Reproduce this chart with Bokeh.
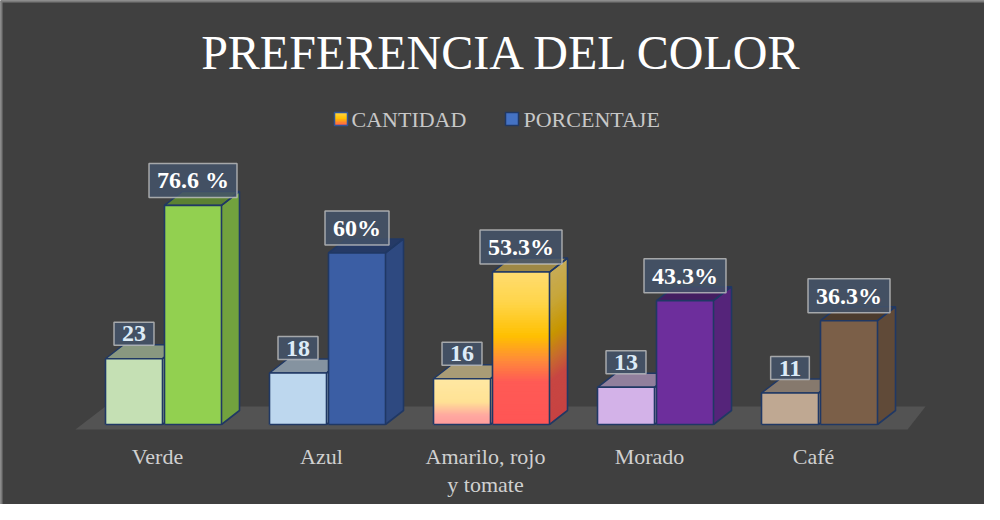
from bokeh.plotting import figure
from bokeh.models import Range1d, Label, Span
from bokeh.core.properties import value
from bokeh.embed import file_html
from bokeh.resources import INLINE

# ---------------- data ----------------
categories = ["Verde", "Azul", "Amarilo, rojo\ny tomate", "Morado", "Café"]
cantidad = [23, 18, 16, 13, 11]
porcentaje = [76.6, 60, 53.3, 43.3, 36.3]
cantidad_labels = ["23", "18", "16", "13", "11"]
porcentaje_labels = ["76.6 %", "60%", "53.3%", "43.3%", "36.3%"]
series_names = ["CANTIDAD", "PORCENTAJE"]
title_text = "PREFERENCIA DEL COLOR"

# ---------------- styles ----------------
BG = "#404040"
FLOOR = "#535353"
EDGE = "#203864"
FONT = value("Liberation Serif")

# colour stops (t=0 top, t=1 bottom) per category
cant_colors = [
    [(0, "#c5e0b4"), (1, "#c5e0b4")],
    [(0, "#bdd7ee"), (1, "#bdd7ee")],
    [(0, "#ffe8a3"), (0.5, "#ffe295"), (0.8, "#ffa8a0"), (1, "#ff9c9c")],
    [(0, "#d3b2e8"), (1, "#d3b2e8")],
    [(0, "#bfa892"), (1, "#bfa892")],
]
porc_colors = [
    [(0, "#92d050"), (1, "#92d050")],
    [(0, "#3b5ea4"), (1, "#3b5ea4")],
    [(0, "#ffdc70"), (0.2, "#ffd54a"), (0.42, "#ffc000"), (0.58, "#ff8a3a"),
     (0.72, "#ff5a55"), (1, "#ff5555")],
    [(0, "#6d2e9c"), (1, "#6d2e9c")],
    [(0, "#7b5f48"), (1, "#7b5f48")],
]

# ---------------- geometry (pixels of the layout) ----------------
W, H = 984, 504
PX_CAT = 164.0      # pixels per category
PX_UNIT = 2.86      # pixels per value unit
X0_REF = 171.0      # centre of first group in page px
ZERO_REF = 432.0    # baseline in page px
BAR_PX = 57.0
GAP_PX = 1.0
DEPTH_X_PX, DEPTH_Y_PX = 18.0, 14.0


def xd(px):
    return (px - X0_REF) / PX_CAT


def yd(py):
    return (ZERO_REF - py) / PX_UNIT


BW = BAR_PX / PX_CAT
G = GAP_PX / PX_CAT
DX = DEPTH_X_PX / PX_CAT
DY = DEPTH_Y_PX / PX_UNIT


def hex2rgb(h):
    h = h.lstrip("#")
    return tuple(int(h[i:i + 2], 16) for i in (0, 2, 4))


def rgb2hex(c):
    return "#%02x%02x%02x" % tuple(max(0, min(255, int(round(v)))) for v in c)


def stop_color(stops, t):
    for (t0, c0), (t1, c1) in zip(stops[:-1], stops[1:]):
        if t0 <= t <= t1:
            f = 0 if t1 == t0 else (t - t0) / (t1 - t0)
            a, b = hex2rgb(c0), hex2rgb(c1)
            return rgb2hex([a[k] + (b[k] - a[k]) * f for k in range(3)])
    return stops[-1][1]


def shade(hexc, f):
    return rgb2hex([v * f for v in hex2rgb(hexc)])


def mix(hexc, other, f):
    a, b = hex2rgb(hexc), hex2rgb(other)
    return rgb2hex([a[k] * (1 - f) + b[k] * f for k in range(3)])


def is_flat(stops):
    return all(c == stops[0][1] for _, c in stops)


p = figure(width=W, height=H, output_backend="svg", toolbar_location=None,
           x_range=Range1d(xd(8), xd(8 + W)), y_range=Range1d(yd(8 + H), yd(8)),
           min_border=0, min_border_left=0, min_border_right=0,
           min_border_top=0, min_border_bottom=0)
p.background_fill_color = BG
p.border_fill_color = BG
p.outline_line_color = None
p.xaxis.visible = False
p.yaxis.visible = False
p.xgrid.visible = False
p.ygrid.visible = False

# chart border (top and left)
p.add_layout(Span(location=yd(8), dimension="width", line_color="#7a7a7a", line_width=4))
p.add_layout(Span(location=xd(8), dimension="height", line_color="#7a7a7a", line_width=4))

# ---------------- floor ----------------
n = len(categories)
fl = -0.5 - 0.037
fr = n - 0.5 + 0.037
fb = yd(437)
ft = yd(414)
p.patch([fl, fr, fr + 18 / PX_CAT, fl + 30 / PX_CAT], [fb, fb, ft, ft],
        fill_color=FLOOR, line_color=None)

NSTRIP = 60


def grad_front(x0, x1, v, stops):
    if is_flat(stops):
        p.quad(left=x0, right=x1, bottom=0, top=v,
               fill_color=stops[0][1], line_color=None)
        return
    L, R, B, T, C = [], [], [], [], []
    for k in range(NSTRIP):
        t = (k + 0.5) / NSTRIP
        L.append(x0); R.append(x1)
        T.append(v * (1 - k / NSTRIP))
        B.append(max(0.0, v * (1 - (k + 2) / NSTRIP)))   # overlap next strip
        C.append(stop_color(stops, t))
    p.quad(left=L, right=R, bottom=B, top=T, fill_color=C, line_color=None)


def grad_side(x1, v, stops, factor):
    if is_flat(stops):
        p.patch([x1, x1 + DX, x1 + DX, x1], [0, DY, v + DY, v],
                fill_color=shade(stops[0][1], factor), line_color=None)
        return
    xs, ys, C = [], [], []
    for k in range(NSTRIP):
        t = (k + 0.5) / NSTRIP
        ya = max(0.0, v * (1 - (k + 2) / NSTRIP))
        yb = v * (1 - k / NSTRIP)
        xs.append([x1, x1 + DX, x1 + DX, x1])
        ys.append([ya, ya + DY, yb + DY, yb])
        C.append(shade(stop_color(stops, t), factor))
    p.patches(xs, ys, fill_color=C, line_color=None)


def bar3d(x0, x1, v, stops, top_color):
    grad_side(x1, v, stops, 0.78)
    p.patch([x0, x1, x1 + DX, x0 + DX], [v, v, v + DY, v + DY],
            fill_color=top_color, line_color=EDGE, line_width=1.5)
    grad_front(x0, x1, v, stops)
    p.multi_line([[x0, x1, x1, x0, x0], [x1, x1 + DX, x1 + DX, x1]],
                 [[0, 0, v, v, 0], [0, DY, v + DY, v]],
                 line_color=EDGE, line_width=1.6)


for i in range(n):
    c0, c1 = i - G - BW, i - G
    bar3d(c0, c1, cantidad[i], cant_colors[i], mix(cant_colors[i][0][1], BG, 0.45))
    q0, q1 = i + G, i + G + BW
    bar3d(q0, q1, porcentaje[i], porc_colors[i], shade(porc_colors[i][0][1], 0.62))

# ---------------- data labels ----------------
lab_common = dict(text_font=FONT, text_font_style="bold", text_font_size="24px",
                  text_align="center", text_baseline="middle", y_offset=-25,
                  background_fill_color="#44546a", background_fill_alpha=0.85,
                  border_line_color="#c8c8c8", border_line_alpha=0.75, border_line_width=1.5,
                  padding=dict(left=8, right=8, top=4, bottom=4))
p.text(x=[i - G - BW / 2 for i in range(n)], y=cantidad, text=cantidad_labels,
       text_color="#ddebf7", **lab_common)
p.text(x=[i + G + BW / 2 for i in range(n)], y=porcentaje, text=porcentaje_labels,
       text_color="#ffffff", **lab_common)

# ---------------- category labels ----------------
p.text(x=[i - 6 / PX_CAT for i in range(n)], y=[yd(451)] * n, text=categories,
       text_font=FONT, text_font_size="22px", text_color="#d0d0d0",
       text_align="center", text_baseline="top", text_line_height=1.15)

# ---------------- title ----------------
p.add_layout(Label(x=xd(510), y=yd(60), text=title_text, text_font="Liberation Serif",
                   text_font_size="48px", text_color="#ffffff",
                   text_align="center", text_baseline="middle"))

# ---------------- legend ----------------
icon_cant = [(0, "#ffd54a"), (0.45, "#ffc000"), (1, "#ff5555")]
ix0, ix1 = xd(342), xd(355)
NI = 8
for k in range(NI):
    ya = yd(120 + k * 13 / NI)
    yb = yd(120 + min(k + 2, NI) * 13 / NI)
    col = stop_color(icon_cant, (k + 0.5) / NI)
    p.quad(left=ix0, right=ix1, top=ya, bottom=yb, fill_color=col, line_color=None)
p.quad(left=ix0, right=ix1, top=yd(120), bottom=yd(133), fill_color=None,
       line_color="#2f5597", line_width=1.5)
p.quad(left=xd(513), right=xd(526), top=yd(120), bottom=yd(133), fill_color="#4472c4",
       line_color=EDGE, line_width=1.5)
p.add_layout(Label(x=xd(359), y=yd(127), text=series_names[0], text_font="Liberation Serif",
                   text_font_size="22px", text_color="#c8c8c8", text_baseline="middle"))
p.add_layout(Label(x=xd(531), y=yd(127), text=series_names[1], text_font="Liberation Serif",
                   text_font_size="22px", text_color="#c8c8c8", text_baseline="middle"))

open("out.html", "w").write(file_html(p, INLINE))
